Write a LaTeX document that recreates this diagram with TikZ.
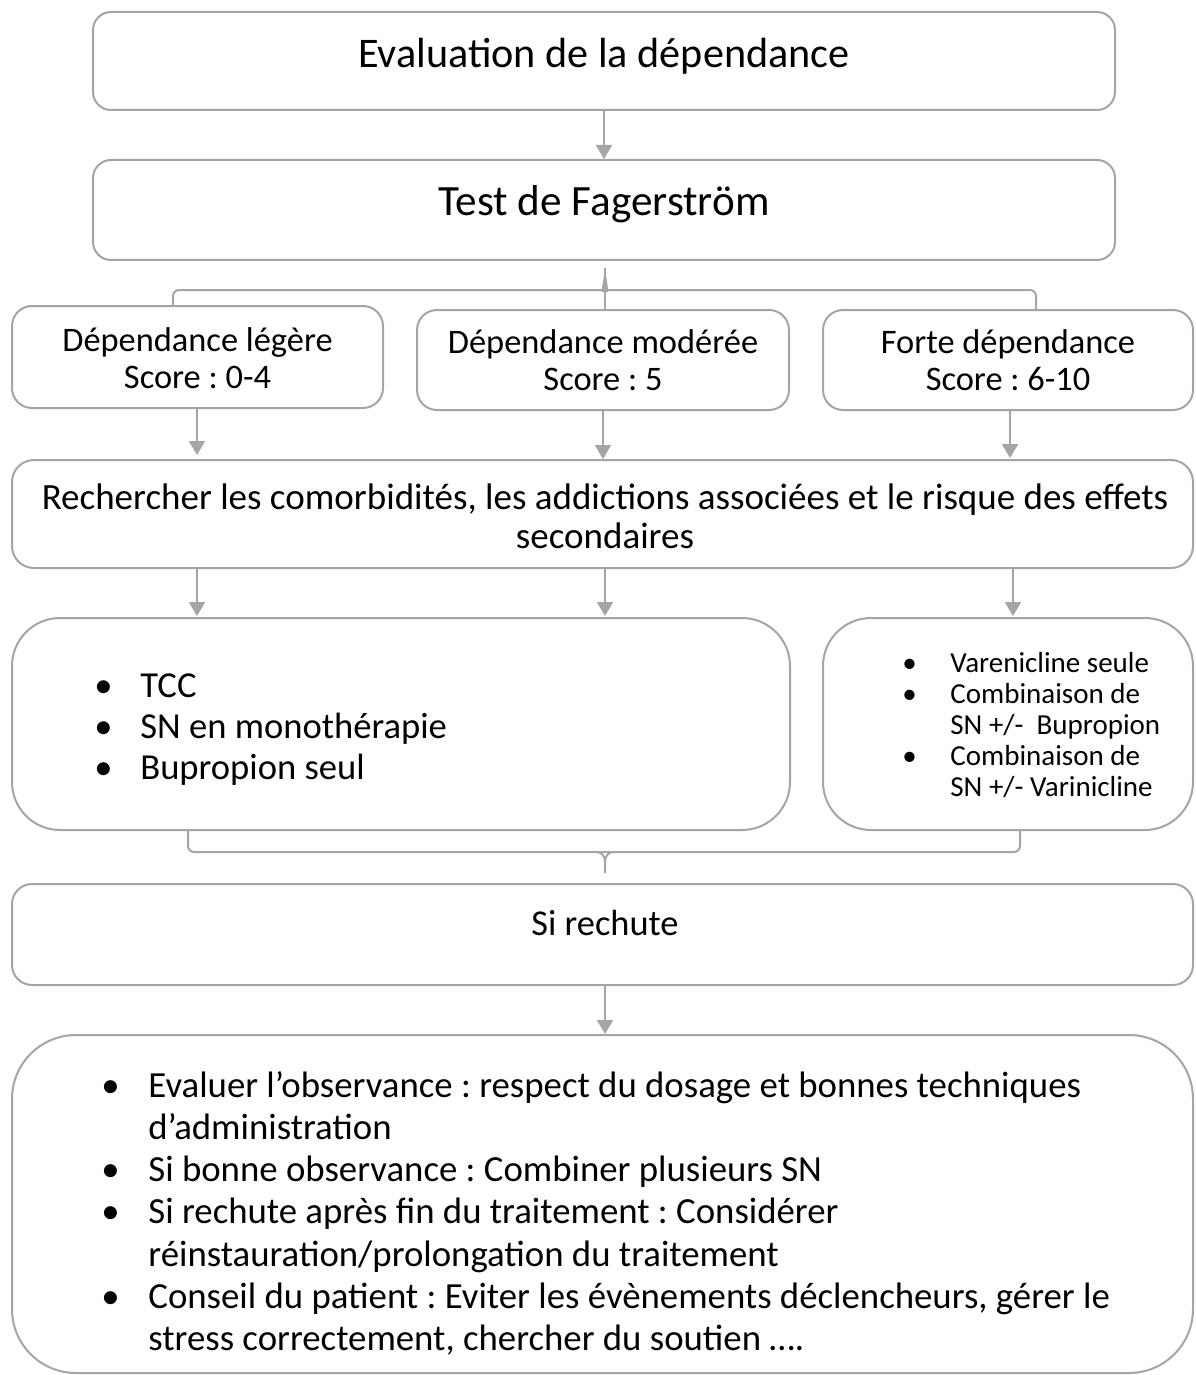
\documentclass[tikz,border=0pt]{standalone}
\usepackage{fontspec}
\setmainfont{Carlito}
\usetikzlibrary{arrows.meta}
\definecolor{edgegray}{RGB}{165,165,165}
\frenchspacing
\begin{document}
\begin{tikzpicture}[x=0.5pt,y=-0.5pt,
  box/.style={draw=edgegray,line width=1pt,rounded corners=#1,inner sep=0pt,fill=white},
  box/.default=10pt,
  link/.style={draw=edgegray,line width=1pt},
  arr/.style={link,-{Triangle[width=8pt,length=7pt]}},
  ttl/.style={font=\fontsize{21.1}{24}\selectfont,anchor=base,inner sep=0pt},
  lbl/.style={font=\fontsize{17.2}{18.5}\selectfont,align=center,inner sep=0pt},
]
\useasboundingbox (0,0) rectangle (1195,1375);

% boxes
\node[box=9pt,minimum width=511pt,minimum height=49pt] (ev) at (604,61) {};
\node[box=9pt,minimum width=511pt,minimum height=50pt] (fg) at (604,210) {};
\node[box,minimum width=185.5pt,minimum height=51pt] (dl) at (197.5,357) {};
\node[box,minimum width=186pt,minimum height=50pt] (dm) at (603,360) {};
\node[box,minimum width=185pt,minimum height=50pt] (dr) at (1008,360) {};
\node[box=11pt,minimum width=590.5pt,minimum height=54pt] (rc) at (602.5,514) {};
\node[box=24pt,minimum width=389pt,minimum height=106pt] (tl) at (401,724) {};
\node[box=24pt,minimum width=185pt,minimum height=106pt] (tr) at (1008,724) {};
\node[box,minimum width=590.5pt,minimum height=50.5pt] (sr) at (602.5,934.5) {};
\node[box=32pt,minimum width=590.5pt,minimum height=169pt] (cs) at (602.5,1204) {};

% texts
\node[ttl] (evt) at (604,68) {Evaluation de la dépendance};
\node[ttl,font=\fontsize{21.6}{24}\selectfont] (fgt) at (604,216) {Test de Fagerström};
\node[lbl] (dlt) at (197.5,358) {Dépendance légère\\Score : 0-4};
\node[lbl] (dmt) at (603,360) {Dépendance modérée\\Score : 5};
\node[lbl] (drt) at (1008,360) {Forte dépendance\\Score : 6-10};
\node[lbl,font=\fontsize{18.5}{19.5}\selectfont] (rct) at (605,516) {Rechercher les comorbidités, les addictions associées et le risque des effets\\secondaires};
\node[ttl,font=\fontsize{18.2}{21}\selectfont] (srt) at (605,935) {Si rechute};

\node[anchor=base west,inner sep=0pt,font=\fontsize{18.3}{20.5}\selectfont] (tlt) at (94,697)
  {\begin{tabular}[t]{@{}p{23pt}@{}l@{}}
   • & TCC\\
   • & SN en monothérapie\\
   • & Bupropion seul
   \end{tabular}};
\node[anchor=base west,inner sep=0pt,font=\fontsize{14.5}{15.6}\selectfont] (trt) at (902,672)
  {\begin{tabular}[t]{@{}p{24pt}@{}l@{}}
   • & Varenicline seule\\
   • & Combinaison de\\
     & SN +/-~~Bupropion\\
   • & Combinaison de\\
     & SN +/- Varinicline
   \end{tabular}};
\node[anchor=base west,inner sep=0pt,font=\fontsize{18.4}{21.15}\selectfont] (cst) at (101,1097)
  {\begin{tabular}[t]{@{}p{23.5pt}@{}l@{}}
   • & Evaluer l’observance : respect du dosage et bonnes techniques\\
     & d’administration\\
   • & Si bonne observance : Combiner plusieurs SN\\
   • & Si rechute après fin du traitement : Considérer\\
     & réinstauration/prolongation du traitement\\
   • & Conseil du patient : Eviter les évènements déclencheurs, gérer le\\
     & stress correctement, chercher du soutien ….
   \end{tabular}};

% straight connectors
\draw[arr] (ev.south) -- (fg.north);
\draw[arr] (dl.south -| 197,0) -- (197,455);
\draw[arr] (dm.south) -- (dm.south |- rc.north);
\draw[arr] (dr.south -| 1010,0) -- (1010,458);
\draw[arr] (rc.south -| 197,0) -- (197,616);
\draw[arr] (rc.south -| 605,0) -- (605,616);
\draw[arr] (rc.south -| 1013,0) -- (1013,616);
\draw[arr] (sr.south -| 605,0) -- (cs.north -| 605,0);

% bracket joining the three scores to the test
\coordinate (bxl) at (173,290);
\coordinate (bxr) at (1036,290);
\coordinate (tip) at (605,268);
\draw[link,rounded corners=3pt] (bxl |- dl.north) -- (bxl) -- (bxr) -- (bxr |- dr.north);
\draw[link] (dm.north -| tip) -- (tip);
\fill[edgegray] (601.5,292) -- (tip) -- (608.5,292) -- cycle;

% bracket joining the two treatment boxes to the relapse box
\coordinate (cbl) at (188,852);
\coordinate (cbr) at (1020,852);
\coordinate (sp) at (605,873);
\draw[link,rounded corners=3pt] (cbl |- tl.south) -- (cbl) -- (cbr) -- (cbr |- tr.south);
\draw[link] (597,852) to[out=0,in=90] (605,862) -- (sp);
\draw[link] (613,852) to[out=180,in=90] (605,862);
\end{tikzpicture}
\end{document}
